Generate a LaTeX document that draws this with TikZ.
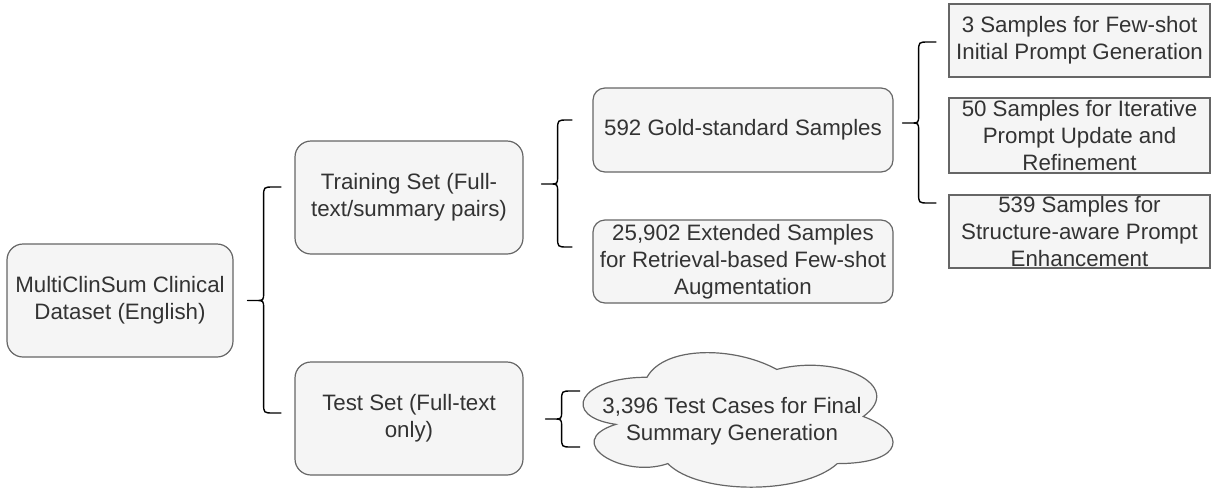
\documentclass[tikz,border=0pt]{standalone}
\usepackage{fontspec}
\setmainfont{Liberation Sans}
\usetikzlibrary{calc}

\definecolor{boxfill}{HTML}{F5F5F5}
\definecolor{boxline}{HTML}{666666}
\definecolor{boxtext}{HTML}{333333}

\tikzset{
	roundbox/.style={draw=boxline, fill=boxfill, line width=0.6pt, rounded corners=8pt,
		align=center, text=boxtext, inner sep=1pt},
	sqbox/.style={draw=boxline, fill=boxfill, line width=0.6pt, inner sep=0pt,
		minimum width=130.5pt, minimum height=36.5pt},
	boxtxt/.style={align=center, text=boxtext, inner sep=0pt},
	brace/.style={draw=black, line width=0.7pt, line join=round},
}

% curly bracket: tip, top end, bottom end
\newcommand{\curly}[3]{%
	\draw[brace] let \p1=(#1), \p2=(#2), \p3=(#3) in
		(\p2) -- (\x1+13pt,\y2) .. controls (\x1+8pt,\y2) .. (\x1+8pt,\y2-5pt)
		-- (\x1+8pt,\y1+4pt) .. controls (\x1+8pt,\y1) .. (\x1+4pt,\y1) -- (\p1)
		-- (\x1+4pt,\y1) .. controls (\x1+8pt,\y1) .. (\x1+8pt,\y1-4pt)
		-- (\x1+8pt,\y3+5pt) .. controls (\x1+8pt,\y3) .. (\x1+13pt,\y3) -- (\p3);
}

\begin{document}
\begin{tikzpicture}[x=0.5pt, y=-0.5pt, font=\fontsize{11.15}{13.5}\selectfont]
	\useasboundingbox (0,0) rectangle (1214,493);
	% first level
	\node[roundbox, minimum width=113pt, minimum height=56.5pt] (main) at (120,300.5) {MultiClinSum Clinical\\Dataset (English)};
	\node[roundbox, minimum width=114pt, minimum height=56.5pt] (train) at (409,197.5) {Training Set (Full-\\text/summary pairs)};
	\node[roundbox, minimum width=114pt, minimum height=56.5pt] (test) at (409,418.5) {Test Set (Full-text\\only)};
	% training split
	\node[roundbox, rounded corners=6pt, minimum width=150pt, minimum height=42pt] (gold) at (743,130) {592 Gold-standard Samples};
	\node[roundbox, rounded corners=6pt, minimum width=150pt, minimum height=41.5pt] (ext) at (743,261.5) {25,902 Extended Samples\\for Retrieval-based Few-shot\\Augmentation};
	% gold split
	\node[sqbox] (samp3) at (1079.5,40.5) {};
	\node[boxtxt] (samp3t) at (samp3) {3 Samples for Few-shot\\Initial Prompt Generation};
	\node[sqbox, minimum height=37.5pt] (samp50) at (1079.5,135.5) {};
	\node[boxtxt] (samp50t) at (samp50) {50 Samples for Iterative\\Prompt Update and\\Refinement};
	\node[sqbox] (samp539) at (1079.5,231.5) {};
	\node[boxtxt] (samp539t) at (samp539) {539 Samples for\\Structure-aware Prompt\\Enhancement};
	% cloud
	\coordinate (cld) at (560.5,338);
	\begin{scope}[shift={(cld)}, x=173pt, y=-78.5pt]
		\draw[draw=boxline, fill=boxfill, line width=0.6pt] (0.25,0.25)
			.. controls (0.05,0.25) and (0,0.5) .. (0.16,0.55)
			.. controls (0,0.66) and (0.18,0.9) .. (0.31,0.8)
			.. controls (0.4,1) and (0.7,1) .. (0.8,0.8)
			.. controls (1,0.8) and (1,0.6) .. (0.875,0.5)
			.. controls (1,0.3) and (0.8,0.1) .. (0.625,0.2)
			.. controls (0.5,0.05) and (0.3,0.05) .. (0.25,0.25) -- cycle;
	\end{scope}
	\node[boxtxt] (final) at (732,421) {3,396 Test Cases for Final\\Summary Generation};
	% braces
	\curly{$(main.east)+(14,0)$}{$(train.west)+(-13,-10.5)$}{$(test.west)+(-13,-5.5)$}
	\curly{$(train.east)+(18,-13.5)$}{$(gold.west)+(-20,-10)$}{$(ext.west)+(-20,-14.5)$}
	\curly{$(gold.east)+(9,-7)$}{$(samp3.west)+(-12,1.5)$}{$(samp539.west)+(-12,-28.5)$}
	\curly{$(test.east)+(22,0.5)$}{$(cld)+(19.5,53)$}{$(cld)+(19.5,109)$}
\end{tikzpicture}
\end{document}
